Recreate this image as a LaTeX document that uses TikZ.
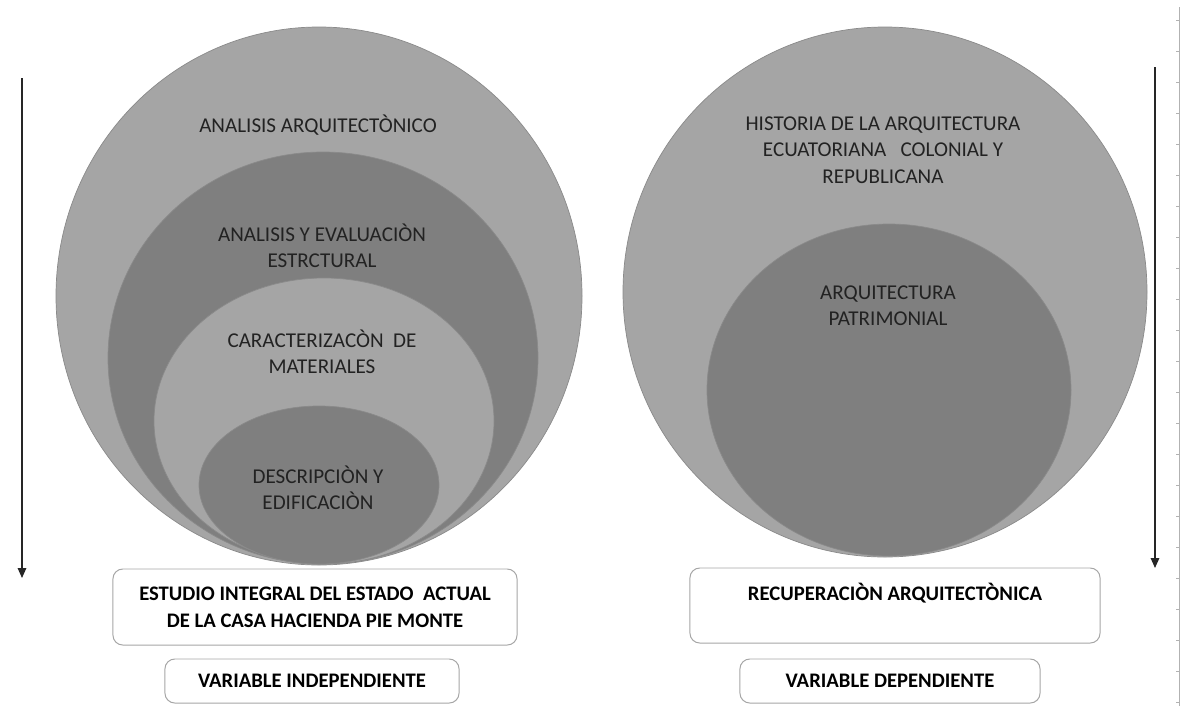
\documentclass[tikz,border=0pt]{standalone}
\usepackage{fontspec}
\setmainfont{Carlito}
\usetikzlibrary{arrows.meta}
\definecolor{lightfill}{HTML}{A5A5A5}
\definecolor{darkfill}{HTML}{7F7F7F}
\definecolor{rimgray}{HTML}{8A8A8A}
\definecolor{labeltext}{HTML}{222222}
\definecolor{boxline}{HTML}{A6A6A6}
\begin{document}
\begin{tikzpicture}[x=0.025cm,y=-0.025cm,
  ring/.style={draw=rimgray,line width=0.5pt},
  ringtext/.style={text=labeltext,align=center,inner sep=0pt,font=\fontsize{15}{18.8}\selectfont},
  varbox/.style={draw=boxline,line width=0.7pt,rounded corners=7pt,fill=white,align=center,
    font=\bfseries\fontsize{14.7}{19.2}\selectfont},
  flow/.style={-{Triangle[length=7pt,width=6pt]},line width=1pt,black!85}]
\useasboundingbox (0,0) rectangle (1186,706);
\fill[lightfill,ring] (319,296) ellipse [x radius=263, y radius=269];
\fill[darkfill,ring] (323,358) ellipse [x radius=215, y radius=206];
\fill[lightfill,ring] (324,421) ellipse [x radius=170, y radius=143];
\fill[darkfill,ring] (319,485) ellipse [x radius=120, y radius=79];
\fill[lightfill,ring] (885,292) ellipse [x radius=262, y radius=265];
\fill[darkfill,ring] (889,390) ellipse [x radius=182, y radius=166];
\node[ringtext] (arqui) at (318,125) {ANALISIS ARQUITECTÒNICO};
\node[ringtext] (estruc) at (322,246) {ANALISIS Y EVALUACIÒN\\ESTRCTURAL};
\node[ringtext] (mater) at (322,352) {CARACTERIZACÒN \ DE\\MATERIALES};
\node[ringtext] (edif) at (318,488) {DESCRIPCIÒN Y\\EDIFICACIÒN};
\node[ringtext] (histo) at (883,150) {HISTORIA DE LA ARQUITECTURA\\ECUATORIANA \ \ COLONIAL Y\\REPUBLICANA};
\node[ringtext] (patri) at (888,306) {ARQUITECTURA\\PATRIMONIAL};
\node[varbox,minimum width=10.1cm,minimum height=1.9cm] (estudio) at (315,607)
  {ESTUDIO INTEGRAL DEL ESTADO \ ACTUAL\\DE LA CASA HACIENDA PIE MONTE};
\node[varbox,minimum width=7.35cm,minimum height=1.1cm] (indep) at (312,681) {VARIABLE INDEPENDIENTE};
\node[varbox,minimum width=10.25cm,minimum height=1.875cm] (recup) at (895,605.5)
  {RECUPERACIÒN ARQUITECTÒNICA\\\mbox{}};
\node[varbox,minimum width=7.5cm,minimum height=1.1cm] (dep) at (890,681) {VARIABLE DEPENDIENTE};
\coordinate (lefttop) at (22,78);
\coordinate (leftend) at (22,578);
\coordinate (righttop) at (1155,67);
\coordinate (rightend) at (1155,568);
\draw[flow] (lefttop) -- (leftend);
\draw[flow] (righttop) -- (rightend);
\coordinate (ruletop) at (1179,7);
\coordinate (rulebot) at (1179,706);
\draw[gray!60,line width=0.4pt] (ruletop) -- (rulebot);
\foreach \k in {0,...,22}
  \draw[gray!60,line width=0.4pt] (1176,{20+31*\k}) -- (1179,{20+31*\k});
\end{tikzpicture}
\end{document}
